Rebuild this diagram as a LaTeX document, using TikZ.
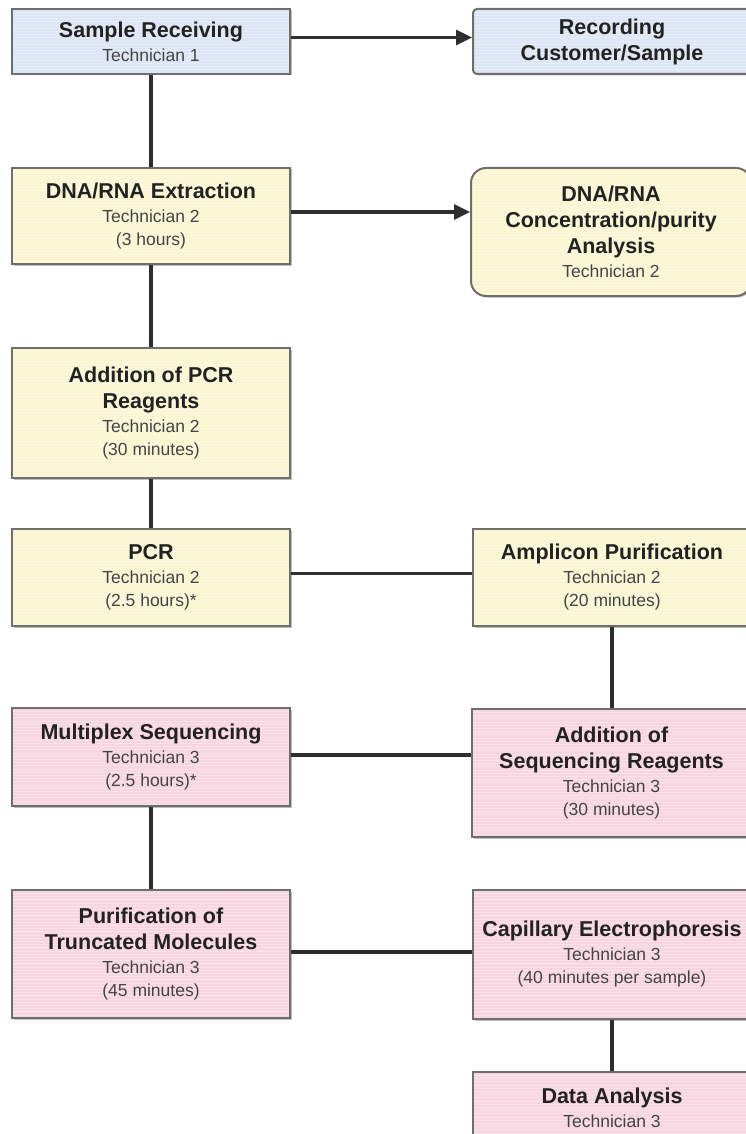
\documentclass[tikz,border=0pt]{standalone}
\usepackage{fontspec}
\setmainfont{Liberation Sans}
\usetikzlibrary{arrows.meta,shadows}
\definecolor{bluefill}{HTML}{DCE6F4}
\definecolor{yellowfill}{HTML}{FBF6D2}
\definecolor{pinkfill}{HTML}{F8D6E1}
\definecolor{boxline}{HTML}{6E6E6E}
\definecolor{conn}{HTML}{2E2E2E}
\definecolor{titlecol}{HTML}{222222}
\definecolor{subcol}{HTML}{444444}
\newcommand{\ttl}[1]{{\fontsize{21.5}{26}\selectfont\bfseries\color{titlecol}#1}}
\newcommand{\subt}[1]{{\fontsize{17.5}{23}\selectfont\color{subcol}#1}}
\tikzset{
  box/.style={draw=boxline, line width=2pt, inner sep=0pt, align=center,
    minimum width=278pt, font=\fontsize{18}{23}\selectfont,
    drop shadow={shadow xshift=1.5pt, shadow yshift=-1.5pt, opacity=0.25, fill=black},
    path picture={\foreach \k in {1,...,60}{\draw[white,opacity=0.3,line width=0.6pt]
      ([yshift=-\k*3.2pt]path picture bounding box.north west) --
      ([yshift=-\k*3.2pt]path picture bounding box.north east);}}},
  bluebox/.style={box, fill=bluefill},
  yellowbox/.style={box, fill=yellowfill},
  pinkbox/.style={box, fill=pinkfill},
  link/.style={draw=conn, line width=3.2pt},
  arrowlink/.style={link, -{Triangle[length=16pt,width=15pt]}}
}
\begin{document}
\begin{tikzpicture}[x=1pt,y=-1pt]
\useasboundingbox (0,0) rectangle (746,1134);
\clip (0,0) rectangle (746,1134);
\fill[white] (0,0) rectangle (746,1134);

\node[bluebox, minimum height=65pt] (sr) at (151,41.5) {\ttl{Sample Receiving}\\[1pt]\subt{Technician 1}};
\node[bluebox, rounded corners=4pt, minimum height=65pt] (rec) at (612,41.5) {\ttl{Recording}\\[3pt]\ttl{Customer/Sample}};

\node[yellowbox, minimum height=96pt] (ext) at (151,216) {\ttl{DNA/RNA Extraction}\\[1pt]\subt{Technician 2}\\\subt{(3 hours)}};
\node[yellowbox, rounded corners=15pt, minimum width=280pt, minimum height=128pt] (conc) at (611,232) {\ttl{DNA/RNA}\\[3pt]\ttl{Concentration/purity}\\[3pt]\ttl{Analysis}\\[1pt]\subt{Technician 2}};

\node[yellowbox, minimum height=130pt] (pcrr) at (151,413) {\ttl{Addition of PCR}\\[3pt]\ttl{Reagents}\\[1pt]\subt{Technician 2}\\\subt{(30 minutes)}};

\node[yellowbox, minimum height=97pt] (pcr) at (151,577.5) {\ttl{PCR}\\[1pt]\subt{Technician 2}\\\subt{(2.5 hours)*}};
\node[yellowbox, minimum height=97pt] (amp) at (612,577.5) {\ttl{Amplicon Purification}\\[1pt]\subt{Technician 2}\\\subt{(20 minutes)}};

\node[pinkbox, minimum height=98pt] (mux) at (151,757) {\ttl{Multiplex Sequencing}\\[1pt]\subt{Technician 3}\\\subt{(2.5 hours)*}};
\node[pinkbox, minimum width=279pt, minimum height=128pt] (adds) at (611.5,773) {\ttl{Addition of}\\[3pt]\ttl{Sequencing Reagents}\\[1pt]\subt{Technician 3}\\\subt{(30 minutes)}};

\node[pinkbox, minimum height=128pt] (purt) at (151,954) {\ttl{Purification of}\\[3pt]\ttl{Truncated Molecules}\\[1pt]\subt{Technician 3}\\\subt{(45 minutes)}};
\node[pinkbox, minimum height=129pt] (cap) at (612,954.5) {\ttl{Capillary Electrophoresis}\\[1pt]\subt{Technician 3}\\\subt{(40 minutes per sample)}};

\node[pinkbox, minimum height=72pt] (data) at (612,1108) {\ttl{Data Analysis}\\[1pt]\subt{Technician 3}};

\draw[arrowlink] ([yshift=4pt]sr.east) -- ([yshift=4pt]sr.east -| rec.west);
\draw[arrowlink] ([yshift=4pt]ext.east) -- ([yshift=4pt]ext.east -| conc.west);
\draw[link] (sr.south) -- (ext.north);
\draw[link] (ext.south) -- (pcrr.north);
\draw[link] (pcrr.south) -- (pcr.north);
\draw[link] ([yshift=4pt]pcr.east) -- ([yshift=4pt]pcr.east -| amp.west);
\draw[link] (amp.south) -- (amp.south |- adds.north);
\draw[link] ([yshift=2pt]mux.east) -- ([yshift=2pt]mux.east -| adds.west);
\draw[link] (mux.south) -- (purt.north);
\draw[link] ([yshift=2pt]purt.east) -- ([yshift=2pt]purt.east -| cap.west);
\draw[link] (cap.south) -- (data.north);
\end{tikzpicture}
\end{document}
